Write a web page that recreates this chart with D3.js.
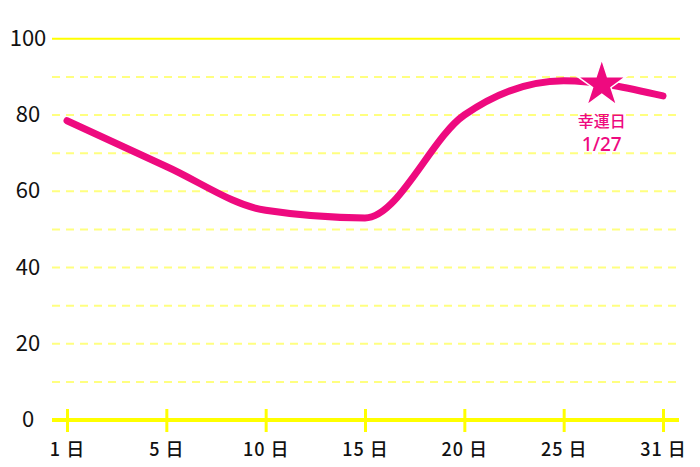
<!DOCTYPE html>
<html>
<head>
<meta charset="utf-8">
<script src="https://cdn.jsdelivr.net/npm/d3@7"></script>
<style>
  body { margin: 0; background: #fff; }
  text { font-family: "Noto Sans CJK JP", "Noto Sans", sans-serif; }
</style>
</head>
<body>
<svg id="grafico"></svg>
<script>
// dias do mês e valores da curva
const dias = [1, 5, 10, 15, 20, 25, 31]
const valores = [78.5, 66.5, 55, 53, 80, 89, 85]
const yTicks = [0, 20, 40, 60, 80, 100]
const gradeTicks = [10, 20, 30, 40, 50, 60, 70, 80, 90]
const diaSorte = 27
const valorSorte = 88
const rotuloSorte = ['幸運日', '1/27']

const largura = 700, altura = 467
const rosa = '#ee0a7f'
const amarelo = '#ffff00'

const svg = d3.select('#grafico')
  .attr('width', largura)
  .attr('height', altura)

const fnX = d3.scalePoint()
  .domain(dias)
  .range([67, 663])

// escala contínua para posicionar o dia da sorte entre os pontos
const fnDia = d3.scaleLinear()
  .domain(dias)
  .range(dias.map(d => fnX(d)))

const fnY = d3.scaleLinear()
  .domain([0, 100])
  .range([420, 38.75])

// grade tracejada
svg.append('g')
  .selectAll('line')
  .data(gradeTicks)
  .join('line')
  .attr('x1', 52).attr('x2', 682)
  .attr('y1', d => fnY(d)).attr('y2', d => fnY(d))
  .attr('stroke', '#ffff80')
  .attr('stroke-width', 2)
  .attr('stroke-dasharray', '8,6')

// linha do topo (100)
svg.append('line')
  .attr('x1', 52).attr('x2', 680)
  .attr('y1', fnY(100)).attr('y2', fnY(100))
  .attr('stroke', amarelo)
  .attr('stroke-width', 2)

// eixo X
const eixoX = d3.axisBottom(fnX)
  .tickSize(0)
  .tickFormat(d => d + ' 日')
const gX = svg.append('g')
  .attr('transform', 'translate(0,' + fnY(0) + ')')
  .call(eixoX)
gX.select('.domain').remove()
gX.append('line')
  .attr('x1', 52).attr('x2', 679)
  .attr('stroke', amarelo)
  .attr('stroke-width', 4)
gX.selectAll('.tick').append('line')
  .attr('y1', -11).attr('y2', 12)
  .attr('stroke', amarelo)
  .attr('stroke-width', 3)
gX.selectAll('.tick text')
  .attr('y', 30)
  .attr('dy', '0.35em')
  .attr('fill', '#111')
  .style('font-size', '18px')
  .style('font-weight', 500)
  .style('letter-spacing', '1px')

// eixo Y
const eixoY = d3.axisLeft(fnY)
  .tickValues(yTicks)
  .tickSize(0)
const gY = svg.append('g')
  .attr('transform', 'translate(28,0)')
  .call(eixoY)
gY.select('.domain').remove()
gY.selectAll('.tick text')
  .attr('x', 0)
  .attr('dy', '0.3em')
  .attr('text-anchor', 'middle')
  .attr('fill', '#111')
  .style('font-size', '22px')
  .style('font-weight', 400)

// curva
const linha = d3.line()
  .x((d, i) => fnX(dias[i]))
  .y(d => fnY(d))
  .curve(d3.curveMonotoneX)

svg.append('path')
  .datum(valores)
  .attr('d', linha)
  .attr('fill', 'none')
  .attr('stroke', rosa)
  .attr('stroke-width', 7)
  .attr('stroke-linecap', 'round')

// estrela do dia da sorte
const estrela = d3.symbol().type(d3.symbolStar).size(720)
const sx = fnDia(diaSorte) + 5, sy = fnY(valorSorte)
svg.append('path')
  .attr('d', estrela())
  .attr('transform', 'translate(' + sx + ',' + sy + ')')
  .attr('fill', rosa)
  .attr('stroke', '#fff')
  .attr('stroke-width', 1.5)

svg.append('g')
  .selectAll('text')
  .data(rotuloSorte)
  .join('text')
  .attr('x', sx)
  .attr('y', (d, i) => sy + 42 + i * 24)
  .attr('text-anchor', 'middle')
  .attr('fill', rosa)
  .style('font-family', (d, i) => i ? '"Noto Sans", sans-serif' : null)
  .style('font-size', (d, i) => i ? '19px' : '16px')
  .style('font-weight', 500)
  .text(d => d)
</script>
</body>
</html>
